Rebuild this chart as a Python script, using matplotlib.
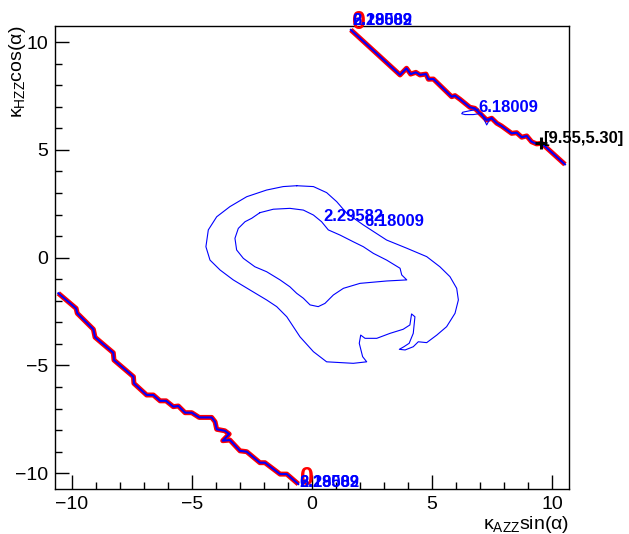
import matplotlib
matplotlib.use("Agg")
import matplotlib.pyplot as plt
from matplotlib.ticker import MultipleLocator

plt.rcParams["font.family"] = ["Liberation Sans", "DejaVu Sans"]
plt.rcParams["mathtext.fontset"] = "custom"
plt.rcParams["mathtext.rm"] = "Liberation Sans"
plt.rcParams["mathtext.it"] = "Liberation Sans:italic"

# level-0 contour (coincides with the open branches of the other levels)
upper_x = [1.62, 3.67, 3.94, 4.11, 4.33, 4.50, 4.75, 4.85, 5.06, 5.82, 5.96,
           6.17, 6.58, 6.79, 7.07, 7.28, 7.49, 7.70, 7.90, 8.32, 8.53, 8.74,
           8.95, 9.15, 9.36, 9.57, 10.54]
upper_y = [10.57, 8.48, 8.79, 8.52, 8.60, 8.48, 8.52, 8.28, 8.29, 7.47, 7.52,
           7.35, 6.98, 6.93, 6.62, 6.39, 6.47, 6.24, 6.11, 5.77, 5.80, 5.59,
           5.65, 5.38, 5.28, 5.31, 4.33]

lower_x = [-10.57, -9.83, -9.78, -9.11, -9.04, -8.28, -8.25, -7.44, -7.42,
           -6.89, -6.61, -6.33, -6.08, -5.78, -5.57, -5.29, -5.01, -4.70,
           -4.18, -4.04, -3.97, -3.63, -3.45, -3.72, -3.42, -3.00, -2.72,
           -2.17, -1.96, -1.33, -1.05, -0.57]
lower_y = [-1.65, -2.35, -2.58, -3.32, -3.69, -4.41, -4.75, -5.52, -5.83,
           -6.37, -6.37, -6.64, -6.64, -6.91, -6.88, -7.19, -7.19, -7.41,
           -7.41, -7.61, -7.96, -8.03, -8.18, -8.49, -8.46, -8.96, -9.00,
           -9.51, -9.51, -10.04, -10.04, -10.50]

# level 6.18009 closed loop
outer_x = [-0.64, 0.06, 0.61, 1.03, 1.45, 2.14, 3.11, 3.95, 4.78, 5.33, 5.75,
           6.03, 6.10, 5.96, 5.61, 5.20, 4.78, 4.43, 4.22, 3.88, 3.64, 3.83,
           4.05, 4.22, 4.29, 4.15, 4.08, 3.80, 3.25, 2.70, 2.21, 2.03, 1.97,
           2.11, 2.28, 1.72, 0.61, 0.06, -0.50, -1.05, -1.47, -1.89, -2.58,
           -3.28, -3.83, -4.25, -4.42, -4.32, -3.97, -3.42, -2.72, -1.89,
           -1.20, -0.64]
outer_y = [3.34, 3.30, 3.02, 2.60, 2.06, 1.52, 0.82, 0.44, 0.05, -0.42, -0.88,
           -1.42, -1.96, -2.58, -3.20, -3.59, -3.94, -3.90, -4.13, -4.28,
           -4.25, -4.13, -3.97, -3.51, -2.74, -2.61, -3.12, -3.32, -3.51,
           -3.74, -3.74, -3.59, -3.97, -4.59, -4.83, -4.90, -4.83, -4.36,
           -3.67, -2.74, -2.27, -1.96, -1.50, -1.03, -0.57, -0.11, 0.51, 1.29,
           1.90, 2.37, 2.83, 3.14, 3.30, 3.34]

# level 2.29582 closed loop
inner_x = [-2.17, -1.61, -0.92, -0.36, 0.06, 0.40, 0.68, 1.17, 1.72, 2.14,
           2.56, 3.11, 3.67, 3.74, 3.95, 3.11, 2.00, 1.31, 0.89, 0.54, 0.26,
           -0.08, -0.36, -0.64, -0.92, -1.33, -1.89, -2.38, -2.86, -3.14,
           -3.21, -3.07, -2.79, -2.51, -2.17]
inner_y = [2.09, 2.25, 2.29, 2.21, 1.98, 1.67, 1.29, 1.05, 0.74, 0.51, 0.20,
           -0.11, -0.49, -0.80, -1.03, -1.08, -1.19, -1.42, -1.73, -2.12,
           -2.27, -2.19, -1.88, -1.65, -1.35, -1.03, -0.65, -0.42, -0.03,
           0.36, 0.90, 1.36, 1.67, 1.83, 2.09]

# small 6.18009 wiggle next to the upper branch
wiggle_x = [6.93, 6.58, 6.28, 6.24, 6.38, 6.72, 7.07, 7.17, 7.28, 7.39, 7.49]
wiggle_y = [6.89, 6.82, 6.75, 6.68, 6.64, 6.64, 6.70, 6.42, 6.16, 6.39, 6.51]

levels = ["0", "2.29582", "6.18009"]
best_x, best_y = 9.55, 5.30

fig = plt.figure(figsize=(6.29, 5.34), dpi=100)
ax = fig.add_axes([0.087, 0.0843, 0.818, 0.867])

for xs, ys in ((upper_x, upper_y), (lower_x, lower_y)):
    ax.plot(xs, ys, color="#ff0000", lw=3.6, solid_capstyle="butt")
    ax.plot(xs, ys, color="#0000ff", lw=1.5)
ax.plot(outer_x, outer_y, color="#0000ff", lw=0.8)
ax.plot(inner_x, inner_y, color="#0000ff", lw=0.8)
ax.plot(wiggle_x, wiggle_y, color="#0000ff", lw=0.8)

# contour labels at the branch ends (red "0" sits behind the blue ones)
ends = [(upper_x[0], upper_y[0], -0.21, 0.07),
        (lower_x[-1], lower_y[-1], -0.26, -0.28)]
for ex, ey, dy_red, dy_blue in ends:
    ax.text(ex + 0.05, ey + dy_red, levels[0], color="#ff0000", fontsize=18,
            fontweight="bold", ha="left", va="bottom", clip_on=False)
    for lab in levels[1:]:
        ax.text(ex + 0.05, ey + dy_blue, lab, color="#0000ff", fontsize=12,
                fontweight="bold", ha="left", va="bottom", clip_on=False)

ax.text(0.46, 1.55, levels[1], color="#0000ff", fontsize=12,
        fontweight="bold", ha="left", va="bottom")
ax.text(2.20, 1.32, levels[2], color="#0000ff", fontsize=12,
        fontweight="bold", ha="left", va="bottom")
ax.text(6.92, 6.62, levels[2], color="#0000ff", fontsize=12,
        fontweight="bold", ha="left", va="bottom")

ax.plot([best_x], [best_y], marker="+", color="black", ms=8, mew=2.2)
ax.text(best_x + 0.08, best_y + 0.25, f"[{best_x:.2f},{best_y:.2f}]",
        fontsize=12, fontweight="bold", ha="left", va="center", clip_on=False)

ax.set_xlim(-10.72, 10.72)
ax.set_ylim(-10.73, 10.75)
ax.xaxis.set_major_locator(MultipleLocator(5))
ax.xaxis.set_minor_locator(MultipleLocator(1))
ax.yaxis.set_major_locator(MultipleLocator(5))
ax.yaxis.set_minor_locator(MultipleLocator(1))
ax.tick_params(which="both", direction="in", top=False, right=False,
               labelsize=14, width=1)
ax.tick_params(which="major", length=10, pad=5)
ax.tick_params(which="minor", length=5)
for s in ax.spines.values():
    s.set_linewidth(1)

ax.set_xlabel("κ$_{\\mathrm{AZZ}}$sin(α)", fontsize=14, loc="right", labelpad=1)
ax.set_ylabel("κ$_{\\mathrm{HZZ}}$cos(α)", fontsize=14, loc="top")
ax.yaxis.set_label_coords(-0.052, 1.0)

fig.savefig("out.png", dpi=100)
